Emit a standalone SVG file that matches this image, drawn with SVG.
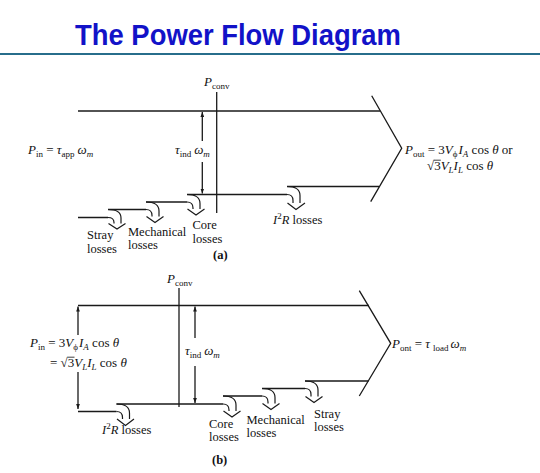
<svg xmlns="http://www.w3.org/2000/svg" width="540" height="473" viewBox="0 0 540 473">
<defs>
<style>
.ln{fill:none;stroke:#1a1a1a;stroke-width:1.3}
.hk{fill:none;stroke:#1a1a1a;stroke-width:1.2}
.ov{stroke:#111;stroke-width:0.8}
.t{font-family:"Liberation Serif","Times New Roman",serif;font-size:13px;fill:#111}
.l{font-family:"Liberation Serif","Times New Roman",serif;font-size:12.5px;fill:#111}
.i{font-style:italic}
.s{font-size:9px}
.b{font-weight:bold}
</style>
<marker id="ah" viewBox="0 0 8 6" refX="8" refY="3" markerWidth="5" markerHeight="4" markerUnits="userSpaceOnUse" orient="auto">
<path d="M0,0 L8,3 L0,6 Z" fill="#1a1a1a"/>
</marker>
</defs>
<rect width="540" height="473" fill="#ffffff"/>

<g id="title">
<text x="75" y="45" font-family="Liberation Sans, Arial, sans-serif" font-weight="bold" font-size="29" fill="#1212c8" textLength="326" lengthAdjust="spacingAndGlyphs">The Power Flow Diagram</text>
<line x1="0" y1="54" x2="540" y2="54" stroke="#276d8b" stroke-width="2.2"/>
</g>

<!-- ===== Diagram (a) ===== -->
<g id="connectors-a">
<path class="ln" d="M78 111 H380"/>
<path class="ln" d="M371.7 95.7 L401.7 148.3 L370.7 201.7"/>
<path class="ln" d="M78 217.5 H108 M108 209.5 H146 M146 202 H187 M187 194.5 H287 M287 186.5 H379"/>
<path class="ln" d="M216.7 92 V213"/>
<path class="ln" d="M202.3 141 V112" marker-end="url(#ah)"/>
<path class="ln" d="M202.3 162 V193.5" marker-end="url(#ah)"/>
</g>

<g id="hook-a-stray" class="hk">
<path d="M108 217.5 Q114 217.5 114 222.5 V223.5"/>
<path d="M108 209.5 C117 209.5 121 212.5 121 218 V223.5"/>
<path d="M108.5 223.5 L117 229 L125.5 223.5"/>
</g>
<g id="hook-a-mech" class="hk">
<path d="M146 209.5 Q152 209.5 152 215.5 V216.5"/>
<path d="M146 202 C155 202 159 205 159 211 V216.5"/>
<path d="M146.5 216.5 L155 222.5 L163.5 216.5"/>
</g>
<g id="hook-a-core" class="hk">
<path d="M187 202 Q193 202 193 208 V209"/>
<path d="M187 194.5 C196 194.5 200 197.5 200 203.5 V209"/>
<path d="M187.5 209 L196 215 L204.5 209"/>
</g>
<g id="hook-a-i2r" class="hk">
<path d="M287 194.5 Q293 194.5 293 200.5 V203"/>
<path d="M287 186.5 C296 186.5 300 189.5 300 195.5 V203"/>
<path d="M287.5 203 L296 209.5 L305 203"/>
</g>

<g id="label-a-pconv">
<text class="t" x="204" y="86"><tspan class="i">P</tspan><tspan class="s" dy="3">conv</tspan></text>
</g>
<g id="label-a-pin">
<text class="t" x="28" y="154"><tspan class="i">P</tspan><tspan class="s" dy="3">in</tspan><tspan dy="-3"> = </tspan><tspan class="i">τ</tspan><tspan class="s" dy="3">app</tspan><tspan class="i" dy="-3" dx="3">ω</tspan><tspan class="s i" dy="3">m</tspan></text>
</g>
<g id="label-a-tind">
<text class="t" x="175" y="154"><tspan class="i">τ</tspan><tspan class="s" dy="3">ind</tspan><tspan class="i" dy="-3" dx="3">ω</tspan><tspan class="s i" dy="3">m</tspan></text>
</g>
<g id="label-a-pout">
<text class="t" x="405" y="154"><tspan class="i">P</tspan><tspan class="s" dy="3">out</tspan><tspan dy="-3"> = 3</tspan><tspan class="i">V</tspan><tspan class="s" dy="3">ϕ</tspan><tspan class="i" dy="-3" dx="1">I</tspan><tspan class="s i" dy="3">A</tspan><tspan dy="-3"> cos </tspan><tspan class="i">θ</tspan><tspan> or</tspan></text>
<text class="t" x="427" y="170">√3<tspan class="i">V</tspan><tspan class="s i" dy="3">L</tspan><tspan class="i" dy="-3">I</tspan><tspan class="s i" dy="3">L</tspan><tspan dy="-3"> cos </tspan><tspan class="i">θ</tspan></text>
<line class="ov" x1="433.8" y1="160.2" x2="440.8" y2="160.2"/>
</g>
<g id="label-a-stray">
<text class="l" x="87" y="239">Stray</text>
<text class="l" x="87" y="252.5">losses</text>
</g>
<g id="label-a-mech">
<text class="l" x="128" y="235.5">Mechanical</text>
<text class="l" x="128" y="249">losses</text>
</g>
<g id="label-a-core">
<text class="l" x="192.5" y="229">Core</text>
<text class="l" x="192.5" y="243">losses</text>
</g>
<g id="label-a-i2r">
<text class="l" x="273" y="224"><tspan class="i">I</tspan><tspan class="s" dy="-5">2</tspan><tspan class="i" dy="5">R</tspan> losses</text>
</g>
<g id="caption-a">
<text class="l b" x="213" y="259">(a)</text>
</g>

<!-- ===== Diagram (b) ===== -->
<g id="connectors-b">
<path class="ln" d="M78 305.5 H369"/>
<path class="ln" d="M359.3 290.7 L390.7 343.3 L359.3 396"/>
<path class="ln" d="M78 411.5 H116.5 M116.5 404 H223 M223 396 H262 M262 388.5 H305 M305 381 H368.5"/>
<path class="ln" d="M179 288 V407"/>
<path class="ln" d="M195 338 V306.5" marker-end="url(#ah)"/>
<path class="ln" d="M195 366 V403" marker-end="url(#ah)"/>
<path class="ln" d="M78 335 V306.5" marker-end="url(#ah)"/>
<path class="ln" d="M78 372 V409" marker-end="url(#ah)"/>
</g>

<g id="hook-b-i2r" class="hk">
<path d="M116.5 411.5 Q122.5 411.5 122.5 417.5 V419"/>
<path d="M116.5 404 C125.5 404 129.5 407 129.5 413 V419"/>
<path d="M117 419 L125.5 425.5 L134 419"/>
</g>
<g id="hook-b-core" class="hk">
<path d="M223 404 Q229 404 229 410 V411"/>
<path d="M223 396 C232 396 236 399 236 405 V411"/>
<path d="M223.5 411 L232 417 L240.5 411"/>
</g>
<g id="hook-b-mech" class="hk">
<path d="M262 396 Q268 396 268 402 V403.5"/>
<path d="M262 388.5 C271 388.5 275 391.5 275 397.5 V403.5"/>
<path d="M262.5 403.5 L271 409.5 L279.5 403.5"/>
</g>
<g id="hook-b-stray" class="hk">
<path d="M305 388.5 Q311 388.5 311 394.5 V396.5"/>
<path d="M305 381 C314 381 318 384 318 390 V396.5"/>
<path d="M305.5 396.5 L314 402.5 L322.5 396.5"/>
</g>

<g id="label-b-pconv">
<text class="t" x="167" y="283"><tspan class="i">P</tspan><tspan class="s" dy="3">conv</tspan></text>
</g>
<g id="label-b-pin">
<text class="t" x="30" y="347"><tspan class="i">P</tspan><tspan class="s" dy="3">in</tspan><tspan dy="-3"> = 3</tspan><tspan class="i">V</tspan><tspan class="s" dy="3">ϕ</tspan><tspan class="i" dy="-3" dx="1">I</tspan><tspan class="s i" dy="3">A</tspan><tspan dy="-3"> cos </tspan><tspan class="i">θ</tspan></text>
<text class="t" x="50" y="367">= √3<tspan class="i">V</tspan><tspan class="s i" dy="3">L</tspan><tspan class="i" dy="-3">I</tspan><tspan class="s i" dy="3">L</tspan><tspan dy="-3"> cos </tspan><tspan class="i">θ</tspan></text>
<line class="ov" x1="67.5" y1="357.2" x2="74.5" y2="357.2"/>
</g>
<g id="label-b-tind">
<text class="t" x="185" y="355"><tspan class="i">τ</tspan><tspan class="s" dy="3">ind</tspan><tspan class="i" dy="-3" dx="3">ω</tspan><tspan class="s i" dy="3">m</tspan></text>
</g>
<g id="label-b-pout">
<text class="t" x="392" y="348"><tspan class="i">P</tspan><tspan class="s" dy="3">ont</tspan><tspan dy="-3"> = </tspan><tspan class="i">τ</tspan><tspan class="s" dy="3" dx="3">load</tspan><tspan class="i" dy="-3" dx="2">ω</tspan><tspan class="s i" dy="3">m</tspan></text>
</g>
<g id="label-b-i2r">
<text class="l" x="102" y="434"><tspan class="i">I</tspan><tspan class="s" dy="-5">2</tspan><tspan class="i" dy="5">R</tspan> losses</text>
</g>
<g id="label-b-core">
<text class="l" x="209" y="427.5">Core</text>
<text class="l" x="209" y="441">losses</text>
</g>
<g id="label-b-mech">
<text class="l" x="246.5" y="424">Mechanical</text>
<text class="l" x="246.5" y="437">losses</text>
</g>
<g id="label-b-stray">
<text class="l" x="314" y="417.5">Stray</text>
<text class="l" x="314" y="431">losses</text>
</g>
<g id="caption-b">
<text class="l b" x="212" y="464">(b)</text>
</g>
</svg>
